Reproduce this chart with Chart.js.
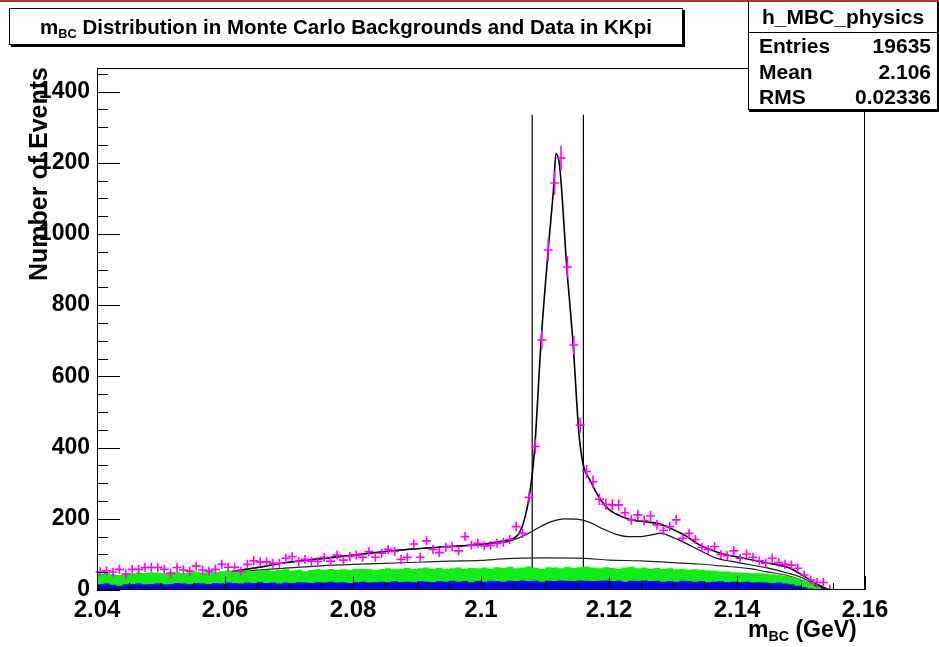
<!DOCTYPE html>
<html>
<head>
<meta charset="utf-8">
<script src="https://cdn.jsdelivr.net/npm/chart.js@4.4.0/dist/chart.umd.min.js"></script>
<style>
  body { margin: 0; background: #fff; font-family: "Liberation Sans", Arial, sans-serif; font-weight: bold; }
  #page { position: relative; width: 939px; height: 647px; overflow: hidden; }
  #topbar { position: absolute; left: 0; top: 0; width: 939px; height: 2px; background: #b3302e; z-index: 5; }
  canvas { position: absolute; left: 0; top: 0; }
  .title-box { position: absolute; left: 9px; top: 8px; width: 672px; height: 35px; border: 1px solid #000;
    box-shadow: 2px 2px 0 #000; background: #fff; font-size: 20.5px; line-height: 35px; text-align: center; }
  sub { font-size: 0.62em; vertical-align: -0.3em; line-height: 0; }
  .stats { position: absolute; left: 748px; top: -1px; width: 188px; height: 109px; border: 1px solid #000;
    box-shadow: 1px 2px 0 #000; background: #fff; font-size: 21px; }
  .stats .head { height: 32px; line-height: 34px; text-align: center; border-bottom: 1px solid #000; }
  .stats .row { position: relative; height: 25.5px; line-height: 25px; }
  .stats .row span { position: absolute; }
  .stats .row .k { left: 10px; }
  .stats .row .v { right: 6px; }
  .xtitle { position: absolute; left: 748px; top: 616px; white-space: nowrap; font-size: 23px; }
</style>
</head>
<body>
<div id="page">
  <canvas id="mbc" width="939" height="647"></canvas>
  <div id="topbar"></div>
  <div class="title-box">m<sub>BC</sub> Distribution in Monte Carlo Backgrounds and Data in KKpi</div>
  <div class="stats">
    <div class="head">h_MBC_physics</div>
    <div class="row"><span class="k">Entries</span><span class="v">19635</span></div>
    <div class="row"><span class="k">Mean</span><span class="v">2.106</span></div>
    <div class="row"><span class="k">RMS</span><span class="v">0.02336</span></div>
  </div>
  <div class="xtitle">m<sub>BC</sub> (GeV)</div>
</div>
<script>
// histogram binning: 0.001 GeV bins starting at 2.04
const binLow = 2.04;
const binWidth = 0.001;

// data counts per bin (magenta crosses)
const dataCounts = [
  51, 54, 50, 58, 45, 58, 58, 63, 63, 63,
  58, 47, 63, 56, 53, 67, 56, 53, 58, 72,
  64, 64, 53, 72, 82, 79, 79, 75, 75, 89,
  94, 80, 86, 81, 80, 92, 81, 98, 84, 94,
  98, 92, 108, 92, 103, 114, 108, 86, 92, 129,
  92, 138, 114, 105, 120, 122, 110, 150, 126, 131,
  124, 125, 131, 134, 142, 178, 159, 260, 403, 702,
  955, 1143, 1213, 907, 688, 463, 333, 304, 255, 241,
  239, 239, 217, 197, 211, 195, 208, 183, 167, 178,
  197, 145, 159, 142, 120, 114, 122, 100, 96, 110,
  89, 101, 92, 82, 75, 89, 77, 72, 70, 61,
  42, 28, 21, 21, 2
];

// MC backgrounds: total stack (green) and the lower component (blue)
const mcTotal = [
  47, 46, 48, 44, 42, 46, 47, 49, 48, 50,
  49, 47, 50, 51, 48, 50, 52, 49, 51, 50,
  53, 55, 52, 54, 56, 53, 55, 57, 54, 56,
  58, 55, 57, 53, 56, 58, 57, 59, 56, 58,
  57, 59, 60, 58, 56, 59, 61, 58, 60, 62,
  59, 61, 63, 60, 62, 59, 61, 63, 60, 62,
  61, 63, 60, 64, 62, 65, 61, 63, 66, 62,
  60, 64, 63, 61, 65, 62, 64, 66, 63, 61,
  64, 62, 60, 63, 65, 61, 63, 60, 62, 59,
  61, 58, 60, 57, 58, 56, 55, 54, 52, 52,
  50, 49, 48, 47, 47, 46, 44, 42, 40, 37,
  33, 27, 20, 10, 0, 0, 0, 0, 0, 0
];
const mcBlue = [
  17, 16, 18, 15, 12, 16, 17, 18, 16, 17,
  18, 16, 17, 20, 18, 17, 20, 18, 17, 20,
  18, 21, 20, 18, 21, 20, 22, 20, 21, 18,
  21, 20, 22, 21, 20, 22, 21, 23, 21, 22,
  20, 22, 23, 21, 22, 23, 22, 25, 22, 23,
  22, 25, 23, 22, 25, 23, 26, 23, 25, 22,
  25, 23, 26, 25, 23, 26, 25, 27, 25, 26,
  23, 26, 25, 27, 26, 25, 27, 26, 25, 26,
  27, 25, 26, 23, 26, 25, 27, 25, 26, 23,
  25, 23, 26, 25, 23, 25, 22, 23, 25, 22,
  23, 22, 23, 21, 22, 21, 20, 21, 18, 16,
  12, 8, 4, 0, 0, 0, 0, 0, 0, 0
];

// fit curves (x in GeV, y in events)
const fitX = [2.0605, 2.065, 2.07, 2.075, 2.08, 2.085, 2.09, 2.095, 2.1, 2.103, 2.1055, 2.1066, 2.1077,
  2.1084, 2.1094, 2.1105, 2.1114, 2.1117, 2.1123, 2.1134, 2.1144, 2.1153, 2.116, 2.117, 2.1184, 2.12,
  2.122, 2.124, 2.126, 2.128, 2.13, 2.132, 2.134, 2.136, 2.138, 2.14, 2.1447, 2.148, 2.15, 2.1525, 2.1545];
const fitY = [50, 63, 78, 88, 98, 108, 116, 122, 128, 136, 150, 187, 281,
  402, 702, 955, 1143, 1226, 1188, 907, 688, 440, 350, 310, 262, 226,
  206, 195, 191, 185, 170, 152, 128, 112, 100, 93, 76, 63, 44, 16, 0];

const bkgX = [2.0605, 2.065, 2.07, 2.075, 2.08, 2.085, 2.09, 2.095, 2.1, 2.103, 2.105, 2.107, 2.109,
  2.111, 2.113, 2.115, 2.117, 2.119, 2.121, 2.123, 2.125, 2.127, 2.128, 2.129, 2.131, 2.133, 2.135,
  2.137, 2.139, 2.142, 2.1447, 2.148, 2.15, 2.1525, 2.154];
const bkgY = [50, 63, 78, 88, 98, 108, 116, 122, 128, 132, 140, 155, 175,
  192, 200, 199, 190, 172, 157, 150, 150, 156, 160, 155, 140, 122, 104,
  88, 81, 71, 62, 47, 36, 11, 0];

const flatX = [2.0605, 2.065, 2.07, 2.075, 2.08, 2.085, 2.09, 2.095, 2.1, 2.104, 2.11, 2.116, 2.12,
  2.125, 2.13, 2.134, 2.138, 2.142, 2.1447, 2.148, 2.15, 2.152, 2.1535, 2.154];
const flatY = [50, 56, 62, 68, 72, 75, 78, 81, 83, 88, 90, 89, 84,
  82, 77, 73, 67, 60, 51, 40, 28, 12, 4, 0];

// signal window cuts
const cutLow = 2.108;
const cutHigh = 2.116;
const cutTop = 1335;

const xMin = 2.04, xMax = 2.16, yMax = 1466;

function histPoints(vals) {
  const pts = vals.map((v, i) => ({ x: binLow + i * binWidth, y: v }));
  pts.push({ x: binLow + vals.length * binWidth, y: vals[vals.length - 1] });
  return pts;
}
function curvePoints(xs, ys) {
  return xs.map((v, i) => ({ x: v, y: ys[i] }));
}

const rootFrame = {
  id: 'rootFrame',
  afterDatasetsDraw(chart) {
    const { ctx, chartArea: a, scales: { x, y } } = chart;
    ctx.save();
    // data points: "+" marker with sqrt(N) error bars
    ctx.strokeStyle = '#ff00ff';
    ctx.lineWidth = 1.6;
    const arm = 4.5;
    dataCounts.forEach((n, i) => {
      const c = binLow + (i + 0.5) * binWidth;
      const px = x.getPixelForValue(c);
      const py = y.getPixelForValue(n);
      const e = Math.sqrt(n);
      const hx = Math.max(arm, (x.getPixelForValue(c + binWidth / 2) - px));
      const up = Math.max(arm, py - y.getPixelForValue(n + e));
      const dn = Math.max(arm, y.getPixelForValue(Math.max(n - e, 0)) - py);
      ctx.beginPath();
      ctx.moveTo(px - hx, py);
      ctx.lineTo(px + hx, py);
      ctx.moveTo(px, Math.min(py + dn, a.bottom));
      ctx.lineTo(px, py - up);
      ctx.stroke();
    });

    // frame and inward ticks
    ctx.strokeStyle = '#000';
    ctx.lineWidth = 1;
    ctx.strokeRect(a.left + 0.5, a.top + 0.5, a.right - a.left - 1, a.bottom - a.top - 1);
    ctx.beginPath();
    for (let k = 0; k * 50 < yMax; k++) {
      const py = Math.round(y.getPixelForValue(k * 50)) + 0.5;
      ctx.moveTo(a.left, py);
      ctx.lineTo(a.left + (k % 4 === 0 ? 23 : 11), py);
    }
    for (let k = 0; k <= 24; k++) {
      const px = Math.round(x.getPixelForValue(xMin + k * 0.005)) + 0.5;
      ctx.moveTo(px, a.bottom);
      ctx.lineTo(px, a.bottom - (k % 4 === 0 ? 14 : 7));
    }
    ctx.stroke();

    // y axis title, overlapping the tick labels as in the original
    ctx.translate(47, 174);
    ctx.rotate(-Math.PI / 2);
    ctx.fillStyle = '#000';
    ctx.font = 'bold 25px "Liberation Sans", Arial, sans-serif';
    ctx.textAlign = 'center';
    ctx.textBaseline = 'alphabetic';
    ctx.fillText('Number of Events', 0, 0);
    ctx.restore();
  }
};

new Chart(document.getElementById('mbc'), {
  type: 'line',
  data: {
    datasets: [
      { data: histPoints(mcBlue), stepped: 'after', fill: 'origin', backgroundColor: '#0000ee',
        borderWidth: 0, pointRadius: 0 },
      { data: histPoints(mcTotal), stepped: 'after', fill: 'origin', backgroundColor: '#11ee11',
        borderWidth: 0, pointRadius: 0 },
      { data: curvePoints(flatX, flatY), borderColor: '#222', borderWidth: 1.2, pointRadius: 0,
        cubicInterpolationMode: 'monotone', fill: false },
      { data: curvePoints(bkgX, bkgY), borderColor: '#111', borderWidth: 1.2, pointRadius: 0,
        cubicInterpolationMode: 'monotone', fill: false },
      { data: curvePoints(fitX, fitY), borderColor: '#000', borderWidth: 1.6, pointRadius: 0,
        cubicInterpolationMode: 'monotone', fill: false },
      { data: [{ x: cutLow, y: 0 }, { x: cutLow, y: cutTop }], borderColor: '#000', borderWidth: 1.2,
        pointRadius: 0, fill: false },
      { data: [{ x: cutHigh, y: 0 }, { x: cutHigh, y: cutTop }], borderColor: '#000', borderWidth: 1.2,
        pointRadius: 0, fill: false }
    ]
  },
  options: {
    responsive: false,
    animation: false,
    devicePixelRatio: 1,
    layout: { padding: { top: 68, right: 74, left: 0, bottom: 0 } },
    plugins: { legend: { display: false }, tooltip: { enabled: false } },
    scales: {
      x: {
        type: 'linear', min: xMin, max: xMax,
        grid: { display: false, drawTicks: false }, border: { display: false },
        afterFit(scale) { scale.height = 57; },
        ticks: {
          stepSize: 0.02, autoSkip: false, maxRotation: 0, padding: 6, color: '#000',
          font: { family: 'Liberation Sans', size: 24, weight: 'bold' },
          callback: (v) => String(+v.toFixed(3))
        }
      },
      y: {
        type: 'linear', min: 0, max: yMax,
        grid: { display: false, drawTicks: false }, border: { display: false },
        afterFit(scale) { scale.width = 97; },
        ticks: {
          stepSize: 200, includeBounds: false, padding: 7, color: '#000',
          font: { family: 'Liberation Sans', size: 23, weight: 'bold' },
          callback: (v) => (v % 200 === 0 ? String(v) : '')
        }
      }
    }
  },
  plugins: [rootFrame]
});
</script>
</body>
</html>
